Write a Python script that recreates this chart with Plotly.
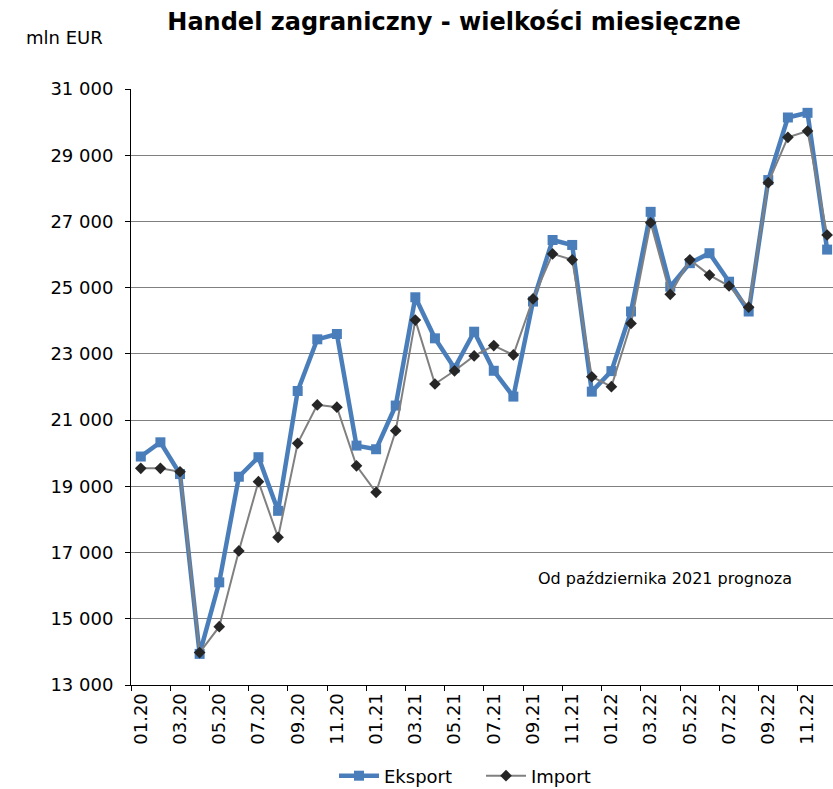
import plotly.graph_objects as go

months = ["01.20", "02.20", "03.20", "04.20", "05.20", "06.20", "07.20", "08.20", "09.20", "10.20", "11.20", "12.20",
          "01.21", "02.21", "03.21", "04.21", "05.21", "06.21", "07.21", "08.21", "09.21", "10.21", "11.21", "12.21",
          "01.22", "02.22", "03.22", "04.22", "05.22", "06.22", "07.22", "08.22", "09.22", "10.22", "11.22", "12.22"]

eksport = [19900, 20330, 19370, 13940, 16100, 19290, 19880, 18260, 21880, 23440, 23600, 20230,
           20120, 21440, 24710, 23470, 22570, 23670, 22490, 21710, 24580, 26440, 26290, 21860,
           22480, 24280, 27290, 25030, 25740, 26040, 25180, 24280, 28250, 30140, 30280, 26150]

import_ = [19545, 19545, 19440, 13980, 14760, 17050, 19140, 17460, 20300, 21460, 21390, 19620,
           18820, 20680, 24020, 22090, 22490, 22940, 23250, 22970, 24660, 26020, 25840, 22310,
           22010, 23920, 26960, 24800, 25840, 25380, 25050, 24410, 28170, 29540, 29730, 26590]

y_ticks = [13000, 15000, 17000, 19000, 21000, 23000, 25000, 27000, 29000, 31000]
y_ticktext = ["13 000", "15 000", "17 000", "19 000", "21 000", "23 000", "25 000", "27 000", "29 000", "31 000"]

idx = list(range(len(months)))
FONT = "DejaVu Sans"

fig = go.Figure()
fig.add_trace(go.Scatter(
    x=idx, y=eksport, name="Eksport", mode="lines+markers",
    line=dict(color="#4a7ebb", width=4.5),
    marker=dict(symbol="square", size=10, color="#4a7ebb"),
    cliponaxis=False,
))
fig.add_trace(go.Scatter(
    x=idx, y=import_, name="Import", mode="lines+markers",
    line=dict(color="#808080", width=2),
    marker=dict(symbol="diamond", size=9, color="#262626"),
    cliponaxis=False,
))

W, H = 833, 789
L, R, T, B = 131, 0, 89, 104
pw = W - L - R
ph = H - T - B

def px_x(px):
    return (px - L) / pw

def px_y(py):
    return (H - B - py) / ph

fig.update_layout(
    width=W, height=H,
    margin=dict(l=L, r=R, t=T, b=B, autoexpand=False),
    paper_bgcolor="white", plot_bgcolor="white",
    font=dict(family=FONT, size=17, color="black"),
    title=dict(text="<b>Handel zagraniczny - wielkości miesięczne</b>",
               x=454 / W, xanchor="center", y=1 - 22 / H, yanchor="middle",
               font=dict(family=FONT, size=24, color="black")),
    showlegend=True,
    legend=dict(orientation="h", xref="container", yref="container",
                x=481 / W, xanchor="center", y=1 - 776 / H, yanchor="middle",
                font=dict(family=FONT, size=18), bgcolor="rgba(0,0,0,0)",
                entrywidth=92, entrywidthmode="pixels", itemwidth=40),
    xaxis=dict(
        range=[-0.5, 35.3],
        tickmode="array", tickvals=idx[::2], ticktext=months[::2],
        tickangle=-90, ticks="", showgrid=False, zeroline=False,
        showline=True, linecolor="black", linewidth=1,
        tickfont=dict(family=FONT, size=18),
        minor=dict(tickmode="array", tickvals=[i - 0.5 for i in idx[::2]],
                   ticks="outside", ticklen=5, tickcolor="black", showgrid=False),
    ),
    yaxis=dict(
        range=[13000, 31000],
        tickmode="array", tickvals=y_ticks, ticktext=y_ticktext,
        ticks="outside", ticklen=5, tickcolor="black", ticklabelstandoff=8,
        showgrid=True, gridcolor="#808080", gridwidth=1, zeroline=False,
        showline=True, linecolor="black", linewidth=1,
        tickfont=dict(family=FONT, size=18),
    ),
    annotations=[
        dict(text="mln EUR", xref="paper", yref="paper", x=px_x(64), y=px_y(37),
             xanchor="center", yanchor="middle", showarrow=False,
             font=dict(family=FONT, size=18, color="black")),
        dict(text="Od października 2021 prognoza", xref="paper", yref="paper",
             x=px_x(665), y=px_y(578), xanchor="center", yanchor="middle", showarrow=False,
             font=dict(family=FONT, size=16, color="black")),
    ],
)

fig.write_html("out.html", config={"displayModeBar": False},
               post_script="document.body.style.margin='0';")
